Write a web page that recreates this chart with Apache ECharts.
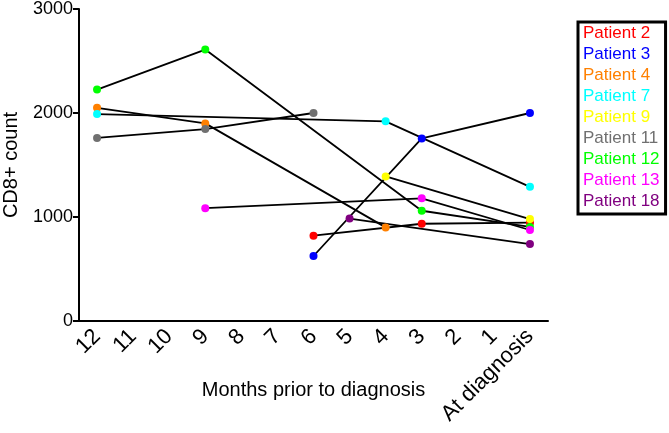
<!DOCTYPE html>
<html>
<head>
<meta charset="utf-8">
<script src="https://cdn.jsdelivr.net/npm/echarts@6/dist/echarts.min.js"></script>
<style>html,body{margin:0;padding:0;background:#fff;}#c{width:669px;height:433px;}</style>
</head>
<body>
<div id="c"></div>
<script>
const categories = ['12','11','10','9','8','7','6','5','4','3','2','1','At diagnosis'];
const yTicks = [0, 1000, 2000, 3000];
const patientNames = ['Patient 2','Patient 3','Patient 4','Patient 7','Patient 9','Patient 11','Patient 12','Patient 13','Patient 18'];
const patientColors = ['#ff0000','#0000ff','#ff8000','#00ffff','#ffff00','#707070','#00ff00','#ff00ff','#800080'];
//                12    11    10    9     8     7     6     5     4     3     2     1     AtDx
const patient2  = [null, null, null, null, null, null, 820,  null, null, 935,  null, null, 945];
const patient3  = [null, null, null, null, null, null, 625,  null, null, 1755, null, null, 2000];
const patient4  = [2050, null, null, 1900, null, null, null, null, 900,  null, null, null, null];
const patient7  = [1990, null, null, null, null, null, null, null, 1920, null, null, null, 1290];
const patient9  = [null, null, null, null, null, null, null, null, 1390, null, null, null, 980];
const patient11 = [1760, null, null, 1845, null, null, 2000, null, null, null, null, null, null];
const patient12 = [2225, null, null, 2610, null, null, null, null, null, 1060, null, null, 905];
const patient13 = [null, null, null, 1085, null, null, null, null, null, 1180, null, null, 875];
const patient18 = [null, null, null, null, null, null, null, 985,  null, null, null, null, 740];
const allData = [patient2, patient3, patient4, patient7, patient9, patient11, patient12, patient13, patient18];

const font = 'Liberation Sans, Arial, sans-serif';
const chart = echarts.init(document.getElementById('c'));
chart.setOption({
  animation: false,
  backgroundColor: '#fff',
  grid: { left: 79, right: 121, top: 9, bottom: 112, containLabel: false, outerBoundsMode: 'none' },
  legend: {
    orient: 'vertical',
    left: 578, top: 22,
    itemWidth: 0, itemHeight: 0,
    itemGap: 4,
    padding: [3, 6, 4, 0],
    borderColor: '#000', borderWidth: 3,
    selectedMode: false,
    textStyle: { fontFamily: font, fontSize: 17 },
    data: patientNames.map((n, i) => ({ name: n, icon: 'rect', textStyle: { color: patientColors[i] } }))
  },
  xAxis: {
    type: 'category',
    data: categories,
    boundaryGap: true,
    name: 'Months prior to diagnosis',
    nameLocation: 'middle',
    nameGap: 59,
    nameMoveOverlap: false,
    nameTextStyle: { fontFamily: font, fontSize: 20, color: '#000' },
    axisLine: { lineStyle: { color: '#000', width: 2 } },
    axisTick: { alignWithLabel: true, length: 6, lineStyle: { color: '#000', width: 2 } },
    axisLabel: { rotate: 45, fontFamily: font, fontSize: 22, color: '#000', margin: 12, interval: 0 },
    splitLine: { show: false }
  },
  yAxis: {
    type: 'value',
    min: yTicks[0], max: yTicks[yTicks.length - 1], interval: 1000,
    name: 'CD8+ count',
    nameLocation: 'middle',
    nameGap: 58,
    nameMoveOverlap: false,
    nameTextStyle: { fontFamily: font, fontSize: 20, color: '#000' },
    axisLine: { show: true, lineStyle: { color: '#000', width: 2 } },
    axisTick: { show: true, length: 6, lineStyle: { color: '#000', width: 2 } },
    axisLabel: { fontFamily: font, fontSize: 18, color: '#000', margin: 6, formatter: v => String(v) },
    splitLine: { show: false }
  },
  series: patientNames.map((n, i) => ({
    name: n,
    type: 'line',
    data: allData[i],
    connectNulls: true,
    symbol: 'circle',
    symbolSize: 8,
    lineStyle: { color: '#000', width: 1.8 },
    itemStyle: { color: patientColors[i] },
    z: 2
  }))
});
</script>
</body>
</html>
